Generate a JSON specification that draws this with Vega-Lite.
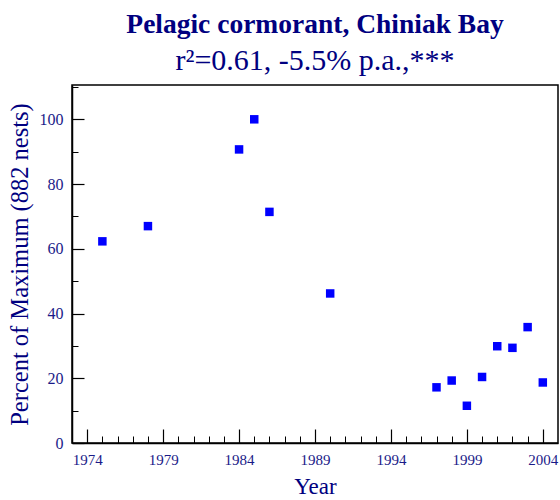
{
  "$schema": "https://vega.github.io/schema/vega-lite/v6.json",
  "autosize": "none",
  "width": 486,
  "height": 358,
  "padding": {"left": 72, "top": 85, "right": 2, "bottom": 57},
  "background": "white",
  "title": {
    "text": "Pelagic cormorant, Chiniak Bay",
    "subtitle": "r²=0.61, -5.5% p.a.,***",
    "anchor": "middle",
    "font": "Liberation Serif",
    "fontSize": 27.5,
    "fontWeight": "bold",
    "color": "#000080",
    "subtitleFont": "Liberation Serif",
    "subtitleFontSize": 30,
    "subtitleColor": "#000080",
    "subtitlePadding": 8,
    "offset": 9
  },
  "config": {
    "view": {"stroke": "black", "strokeWidth": 1.5},
    "axis": {
      "grid": false,
      "domainColor": "black",
      "tickColor": "black",
      "labelFont": "Liberation Serif",
      "labelColor": "#1a1a88",
      "labelFontSize": 15,
      "titleFont": "Liberation Serif",
      "titleFontWeight": "normal",
      "titleColor": "#000080",
      "titleFontSize": 23
    }
  },
  "data": {
    "values": [
      {"Year": 1975, "Percent": 62.3},
      {"Year": 1978, "Percent": 67.0},
      {"Year": 1984, "Percent": 90.7},
      {"Year": 1985, "Percent": 100.0},
      {"Year": 1986, "Percent": 71.4},
      {"Year": 1990, "Percent": 46.2},
      {"Year": 1997, "Percent": 17.2},
      {"Year": 1998, "Percent": 19.3},
      {"Year": 1999, "Percent": 11.5},
      {"Year": 2000, "Percent": 20.4},
      {"Year": 2001, "Percent": 29.9},
      {"Year": 2002, "Percent": 29.4},
      {"Year": 2003, "Percent": 35.8},
      {"Year": 2004, "Percent": 18.7}
    ]
  },
  "resolve": {"axis": {"x": "independent", "y": "independent"}},
  "layer": [
    {
      "mark": {"type": "point", "shape": "square", "filled": true, "opacity": 0},
      "encoding": {
        "x": {
          "field": "Year", "type": "quantitative",
          "scale": {"domain": [1973, 2005], "nice": false, "zero": false},
          "axis": {"orient": "bottom", "values": [1974,1975,1976,1977,1978,1979,1980,1981,1982,1983,1984,1985,1986,1987,1988,1989,1990,1991,1992,1993,1994,1995,1996,1997,1998,1999,2000,2001,2002,2003,2004],
                   "labels": false, "title": null, "domain": false, "tickSize": -7, "tickWidth": 1}
        },
        "y": {
          "field": "Percent", "type": "quantitative",
          "scale": {"domain": [0, 110.6], "nice": false},
          "axis": {"orient": "left", "values": [10, 30, 50, 70, 90, 110],
                   "labels": false, "title": null, "domain": false, "tickSize": -6, "tickWidth": 1}
        }
      }
    },
    {
      "mark": {"type": "point", "shape": "square", "filled": true, "color": "#0000ff", "opacity": 1, "size": 72},
      "encoding": {
        "x": {
          "field": "Year", "type": "quantitative",
          "scale": {"domain": [1973, 2005], "nice": false, "zero": false},
          "axis": {"orient": "bottom", "values": [1974, 1979, 1984, 1989, 1994, 1999, 2004],
                   "format": "d", "title": "Year", "tickSize": -14, "tickWidth": 1.2,
                   "labelPadding": 23, "titlePadding": 8, "domainWidth": 1.5}
        },
        "y": {
          "field": "Percent", "type": "quantitative",
          "scale": {"domain": [0, 110.6], "nice": false},
          "axis": {"orient": "left", "values": [0, 20, 40, 60, 80, 100],
                   "title": "Percent of Maximum (882 nests)", "tickSize": -12, "tickWidth": 1.2,
                   "labelPadding": 21, "titlePadding": 7, "titleFontSize": 24.5, "labelFontSize": 16, "domainWidth": 1.5}
        }
      }
    }
  ]
}
